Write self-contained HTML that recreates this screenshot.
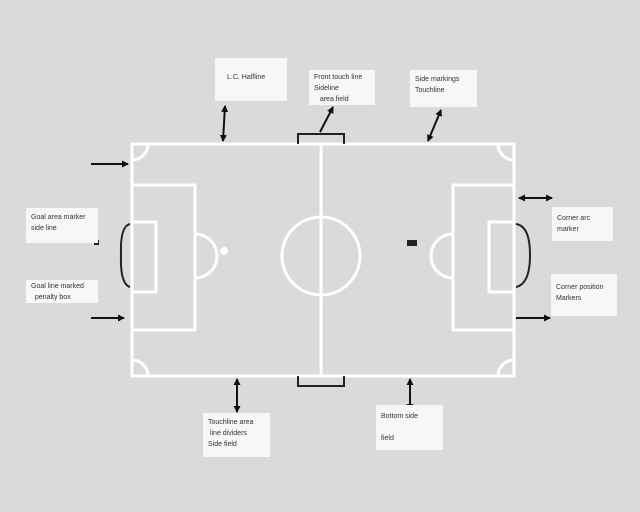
<!DOCTYPE html>
<html><head><style>
body{margin:0;width:640px;height:512px;background:#d8dadb;overflow:hidden;font-family:"Liberation Sans",sans-serif}
.b{position:absolute;background:#f7f7f7;font-size:7px;color:#333;padding:4px 5px;box-sizing:border-box;line-height:11px}
</style></head><body>
<svg width="640" height="512" style="position:absolute;left:0;top:0">
<defs><marker id="a" markerWidth="8" markerHeight="8" refX="6" refY="4" orient="auto-start-reverse" markerUnits="userSpaceOnUse"><path d="M0,0.5 L7,4 L0,7.5z" fill="#111"/></marker></defs>
<g stroke="#fff" stroke-width="3" fill="none">
<rect x="132" y="144" width="382" height="232"/>
<line x1="321" y1="144" x2="321" y2="376"/>
<circle cx="321" cy="256" r="39"/>
<rect x="132" y="185" width="63" height="145"/>
<rect x="132" y="222" width="24" height="70"/>
<rect x="453" y="185" width="61" height="145"/>
<rect x="489" y="222" width="25" height="70"/>
<path d="M195,234 A22,22 0 0 1 195,278"/>
<path d="M453,234 A22,22 0 0 0 453,278"/>
<path d="M132,160 A16,16 0 0 0 148,144"/>
<path d="M498,144 A16,16 0 0 0 514,160"/>
<path d="M132,360 A16,16 0 0 1 148,376"/>
<path d="M498,376 A16,16 0 0 1 514,360"/>
</g>
<circle cx="224" cy="251" r="4" fill="#fff"/>
<rect x="407" y="240" width="10" height="6" fill="#222"/>
<rect x="94" y="240" width="5" height="5" fill="#222"/>
<g stroke="#222" stroke-width="2" fill="none">
<path d="M298,144 V134 H344 V144"/>
<path d="M298,376 V386 H344 V376"/>
<path d="M130,224 Q120,226 121,255 Q120,284 130,287"/>
<path d="M516,224 Q530,226 530,255 Q530,284 516,287"/>
</g>
<g stroke="#111" stroke-width="2" marker-end="url(#a)">
<line x1="225" y1="106" x2="223" y2="141" marker-start="url(#a)"/>
<line x1="320" y1="132" x2="333" y2="107"/>
<line x1="441" y1="110" x2="428" y2="141" marker-start="url(#a)"/>
<line x1="91" y1="164" x2="128" y2="164"/>
<line x1="91" y1="318" x2="124" y2="318"/>
<line x1="519" y1="198" x2="552" y2="198" marker-start="url(#a)"/>
<line x1="516" y1="318" x2="550" y2="318"/>
<line x1="237" y1="379" x2="237" y2="412" marker-start="url(#a)"/>
<line x1="410" y1="379" x2="410" y2="410" marker-start="url(#a)"/>
</g>
</svg>
<div class="b" style="left:215px;top:58px;width:72px;height:43px;padding-top:14px;padding-left:12px">L.C. Halfline</div>
<div class="b" style="left:309px;top:70px;width:66px;height:35px;padding-top:2px">Front touch line<br>Sideline<br>&nbsp;&nbsp;&nbsp;area field</div>
<div class="b" style="left:410px;top:70px;width:67px;height:37px">Side markings<br>Touchline</div>
<div class="b" style="left:26px;top:208px;width:72px;height:35px">Goal area marker<br>side line</div>
<div class="b" style="left:26px;top:280px;width:72px;height:23px;padding-top:1px">Goal line marked<br>&nbsp;&nbsp;penalty box</div>
<div class="b" style="left:552px;top:207px;width:61px;height:34px;padding-top:6px">Corner arc<br>marker</div>
<div class="b" style="left:551px;top:274px;width:66px;height:42px;padding-top:8px">Corner position<br>Markers</div>
<div class="b" style="left:203px;top:413px;width:67px;height:44px;padding-top:4px">Touchline area<br>&nbsp;line dividers<br>Side field</div>
<div class="b" style="left:376px;top:405px;width:67px;height:45px;padding-top:6px">Bottom side<br><br>field</div>
</body></html>
